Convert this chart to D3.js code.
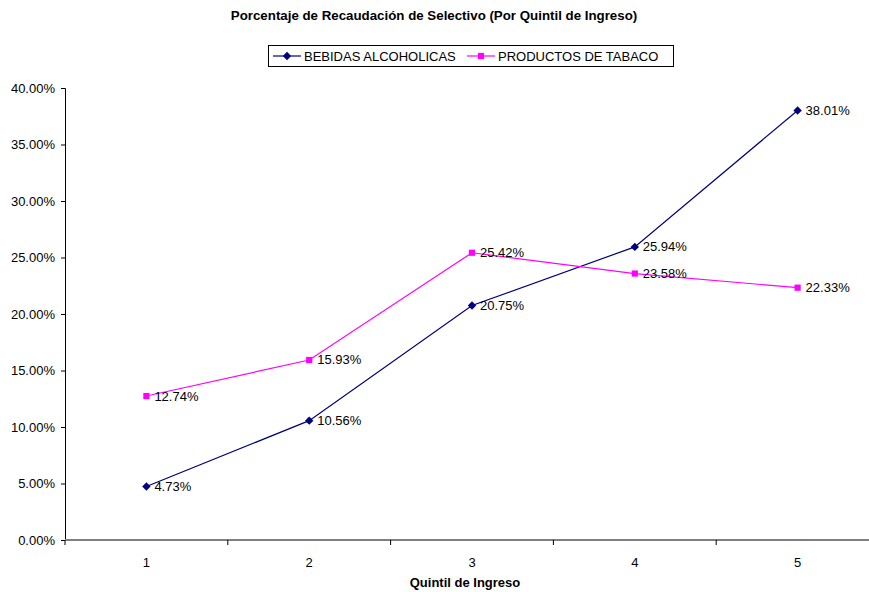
<!DOCTYPE html>
<html>
<head>
<meta charset="utf-8">
<script src="https://cdn.jsdelivr.net/npm/d3@7"></script>
<style>
  body { margin: 0; background: #fff; }
  svg { font-family: "Liberation Sans", Arial, sans-serif; }
</style>
</head>
<body>
<svg id="chart"></svg>
<script>
var quintiles = [1, 2, 3, 4, 5]
var bebidas = [4.73, 10.56, 20.75, 25.94, 38.01]
var tabaco = [12.74, 15.93, 25.42, 23.58, 22.33]
var yTicks = [0, 5, 10, 15, 20, 25, 30, 35, 40]
var seriesNames = ["BEBIDAS ALCOHOLICAS", "PRODUCTOS DE TABACO"]

var screen = {width: 869, height: 592}
var margins = {top: 88, bottom: 52, left: 65, right: -10}
var graph = {
    width: screen.width - margins.left - margins.right,
    height: screen.height - margins.top - margins.bottom
}

var svg = d3.select("#chart")
    .attr("width", screen.width)
    .attr("height", screen.height)

var xScale = d3.scaleBand()
    .domain(quintiles)
    .range([0, graph.width])

var yScale = d3.scaleLinear()
    .domain([0, 40])
    .range([graph.height, 0])

var g = svg.append("g")
    .classed("graph", true)
    .attr("transform", "translate(" + margins.left + "," + margins.top + ")")

// title
svg.append("text")
    .attr("x", 434)
    .attr("y", 20)
    .attr("text-anchor", "middle")
    .style("font-size", "13.3px")
    .style("font-weight", "bold")
    .text("Porcentaje de Recaudación de Selectivo (Por Quintil de Ingreso)")

// axes
var yAxis = d3.axisLeft(yScale)
    .tickValues(yTicks)
    .tickSize(4)
    .tickFormat(function(d) { return d.toFixed(2) + "%" })

var yg = g.append("g").call(yAxis)
yg.select(".domain").attr("stroke", "#000")
yg.selectAll("text").style("font-size", "13px").attr("fill", "#000").attr("x", -10)

var xTickPos = d3.range(0, 6).map(function(i) { return i * xScale.bandwidth() })
var xg = g.append("g")
    .attr("transform", "translate(0," + graph.height + ")")
xg.append("line")
    .attr("x1", 0).attr("x2", graph.width)
    .attr("stroke", "#808080").attr("stroke-width", 2)
xg.selectAll(".tk").data(xTickPos).enter().append("line")
    .attr("x1", function(d) { return d }).attr("x2", function(d) { return d })
    .attr("y1", 0).attr("y2", 5)
    .attr("stroke", "#000")
xg.selectAll(".lbl").data(quintiles).enter().append("text")
    .attr("x", function(d) { return xScale(d) + xScale.bandwidth() / 2 })
    .attr("y", 27)
    .attr("text-anchor", "middle")
    .style("font-size", "13px")
    .text(function(d) { return d })

svg.append("text")
    .attr("x", 465)
    .attr("y", 587)
    .attr("text-anchor", "middle")
    .style("font-size", "13px")
    .style("font-weight", "bold")
    .text("Quintil de Ingreso")

var cx = function(d, i) { return xScale(quintiles[i]) + xScale.bandwidth() / 2 }
var lineGenerator = d3.line()
    .x(cx)
    .y(function(d) { return yScale(d) })

var drawSeries = function(values, color, symbol, size) {
    g.append("path")
        .datum(values)
        .attr("d", lineGenerator)
        .attr("fill", "none")
        .attr("stroke", color)
        .attr("stroke-width", 1.2)
    g.selectAll(null).data(values).enter().append("path")
        .attr("d", d3.symbol().type(symbol).size(size))
        .attr("transform", function(d, i) { return "translate(" + cx(d, i) + "," + yScale(d) + ")" })
        .attr("fill", color)
    g.selectAll(null).data(values).enter().append("text")
        .attr("x", function(d, i) { return cx(d, i) + 8 })
        .attr("y", function(d) { return yScale(d) + 4.5 })
        .style("font-size", "13px")
        .text(function(d) { return d.toFixed(2) + "%" })
}

drawSeries(bebidas, "#000080", d3.symbolDiamond2, 45)
drawSeries(tabaco, "#FF00FF", d3.symbolSquare2, 49)

// legend
var legend = svg.append("g")
legend.append("rect")
    .attr("x", 268.5).attr("y", 45.5)
    .attr("width", 405).attr("height", 21)
    .attr("fill", "#fff").attr("stroke", "#000")

var legendItems = [
    {name: seriesNames[0], color: "#000080", symbol: d3.symbolDiamond2, size: 45, x: 273},
    {name: seriesNames[1], color: "#FF00FF", symbol: d3.symbolSquare2, size: 49, x: 467}
]
legendItems.forEach(function(item) {
    legend.append("line")
        .attr("x1", item.x).attr("x2", item.x + 28)
        .attr("y1", 56).attr("y2", 56)
        .attr("stroke", item.color).attr("stroke-width", 1.2)
    legend.append("path")
        .attr("d", d3.symbol().type(item.symbol).size(item.size))
        .attr("transform", "translate(" + (item.x + 14) + ",56)")
        .attr("fill", item.color)
    legend.append("text")
        .attr("x", item.x + 31)
        .attr("y", 60.5)
        .style("font-size", "13px")
        .text(item.name)
})
</script>
</body>
</html>
